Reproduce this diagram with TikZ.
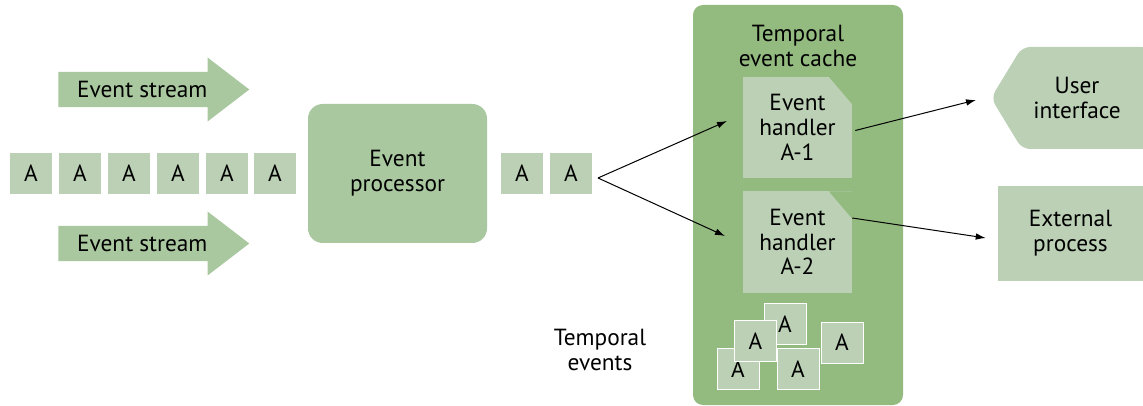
\documentclass[tikz,border=0pt]{standalone}
\usepackage{fontspec}
\setmainfont{PT Sans}
\usetikzlibrary{shapes.arrows,arrows.meta,calc}

\definecolor{boxgreen}{RGB}{187,208,181}
\definecolor{midgreen}{RGB}{169,200,159}
\definecolor{darkgreen}{RGB}{147,187,128}

\begin{document}
\begin{tikzpicture}[x=0.75pt,y=-0.75pt,
        every node/.style={font=\fontsize{17.5}{18.5}\selectfont, align=center},
        event/.style={fill=boxgreen, minimum width=31.5pt, minimum height=30.75pt, inner sep=0pt},
        loose/.style={event, draw=white, line width=0.75pt},
        stream/.style={single arrow, fill=midgreen, minimum height=143.25pt, minimum width=48pt,
            single arrow head extend=9.75pt, single arrow tip angle=75, inner xsep=0pt, inner ysep=5.5pt},
        handler/.style={fill=boxgreen, minimum width=81.75pt, minimum height=75.75pt, inner sep=0pt,
            path picture={\fill[darkgreen] ([xshift=-17.25pt]path picture bounding box.north east)
                -- (path picture bounding box.north east)
                -- ([yshift=-20.25pt]path picture bounding box.north east) -- cycle;}},
        conn/.style={-{Latex[length=7.5pt,width=5pt]}, line width=0.75pt}]
    \useasboundingbox (0,0) rectangle (1143,406);

    \node[stream, anchor=tail] (s1) at (58,89.5) {Event stream};
    \node[stream, anchor=tail] (s2) at (58,243.5) {Event stream};

    \foreach \x [count=\i] in {31,80,129,178,227,275}
        \node[event] (a\i) at (\x,173.5) {A};

    \node[fill=midgreen, rounded corners=11pt, minimum width=134.25pt, minimum height=104.25pt] (proc) at (397.5,173.5) {Event\\processor};

    \node[event] (a7) at (522,173.5) {A};
    \node[event] (a8) at (571,173.5) {A};

    \node[fill=darkgreen, rounded corners=7.5pt, minimum width=157.5pt, minimum height=300pt] (cache) at (798,205) {};
    \node (title) at (798,46) {Temporal\\event cache};
    \node[handler] (h1) at (797.5,127.5) {Event\\handler\\A-1};
    \node[handler] (h2) at (797.5,242) {Event\\handler\\A-2};

    \node[loose] (t1) at (785,324) {A};
    \node[loose] (t2) at (738,369) {A};
    \node[loose] (t3) at (755.5,341) {A};
    \node[loose] (t4) at (798,369) {A};
    \node[loose] (t5) at (842,342.5) {A};
    \node (tev) at (600,350) {Temporal\\events};

    \fill[boxgreen, rounded corners=6pt] (991,98) -- (1022,47) -- (1150,47) -- (1150,149) -- (1022,149) -- cycle;
    \node (ui) at (1077,98) {User\\interface};
    \node[fill=boxgreen, minimum width=108.75pt, minimum height=71.25pt] (ext) at (1070.5,233.5) {External\\process};

    \coordinate (fork) at (598,178);
    \coordinate (in1) at (727,121);
    \coordinate (in2) at (725,236);
    \coordinate (uiin) at (976,100);
    \draw[conn] (fork) -- (in1);
    \draw[conn] (fork) -- (in2);
    \draw[conn] ($(h1.east)+(3,3)$) -- (uiin);
    \draw[conn] ($(h2.east)+(0,-24)$) -- ($(ext.west)+(-12,4.5)$);
\end{tikzpicture}
\end{document}
